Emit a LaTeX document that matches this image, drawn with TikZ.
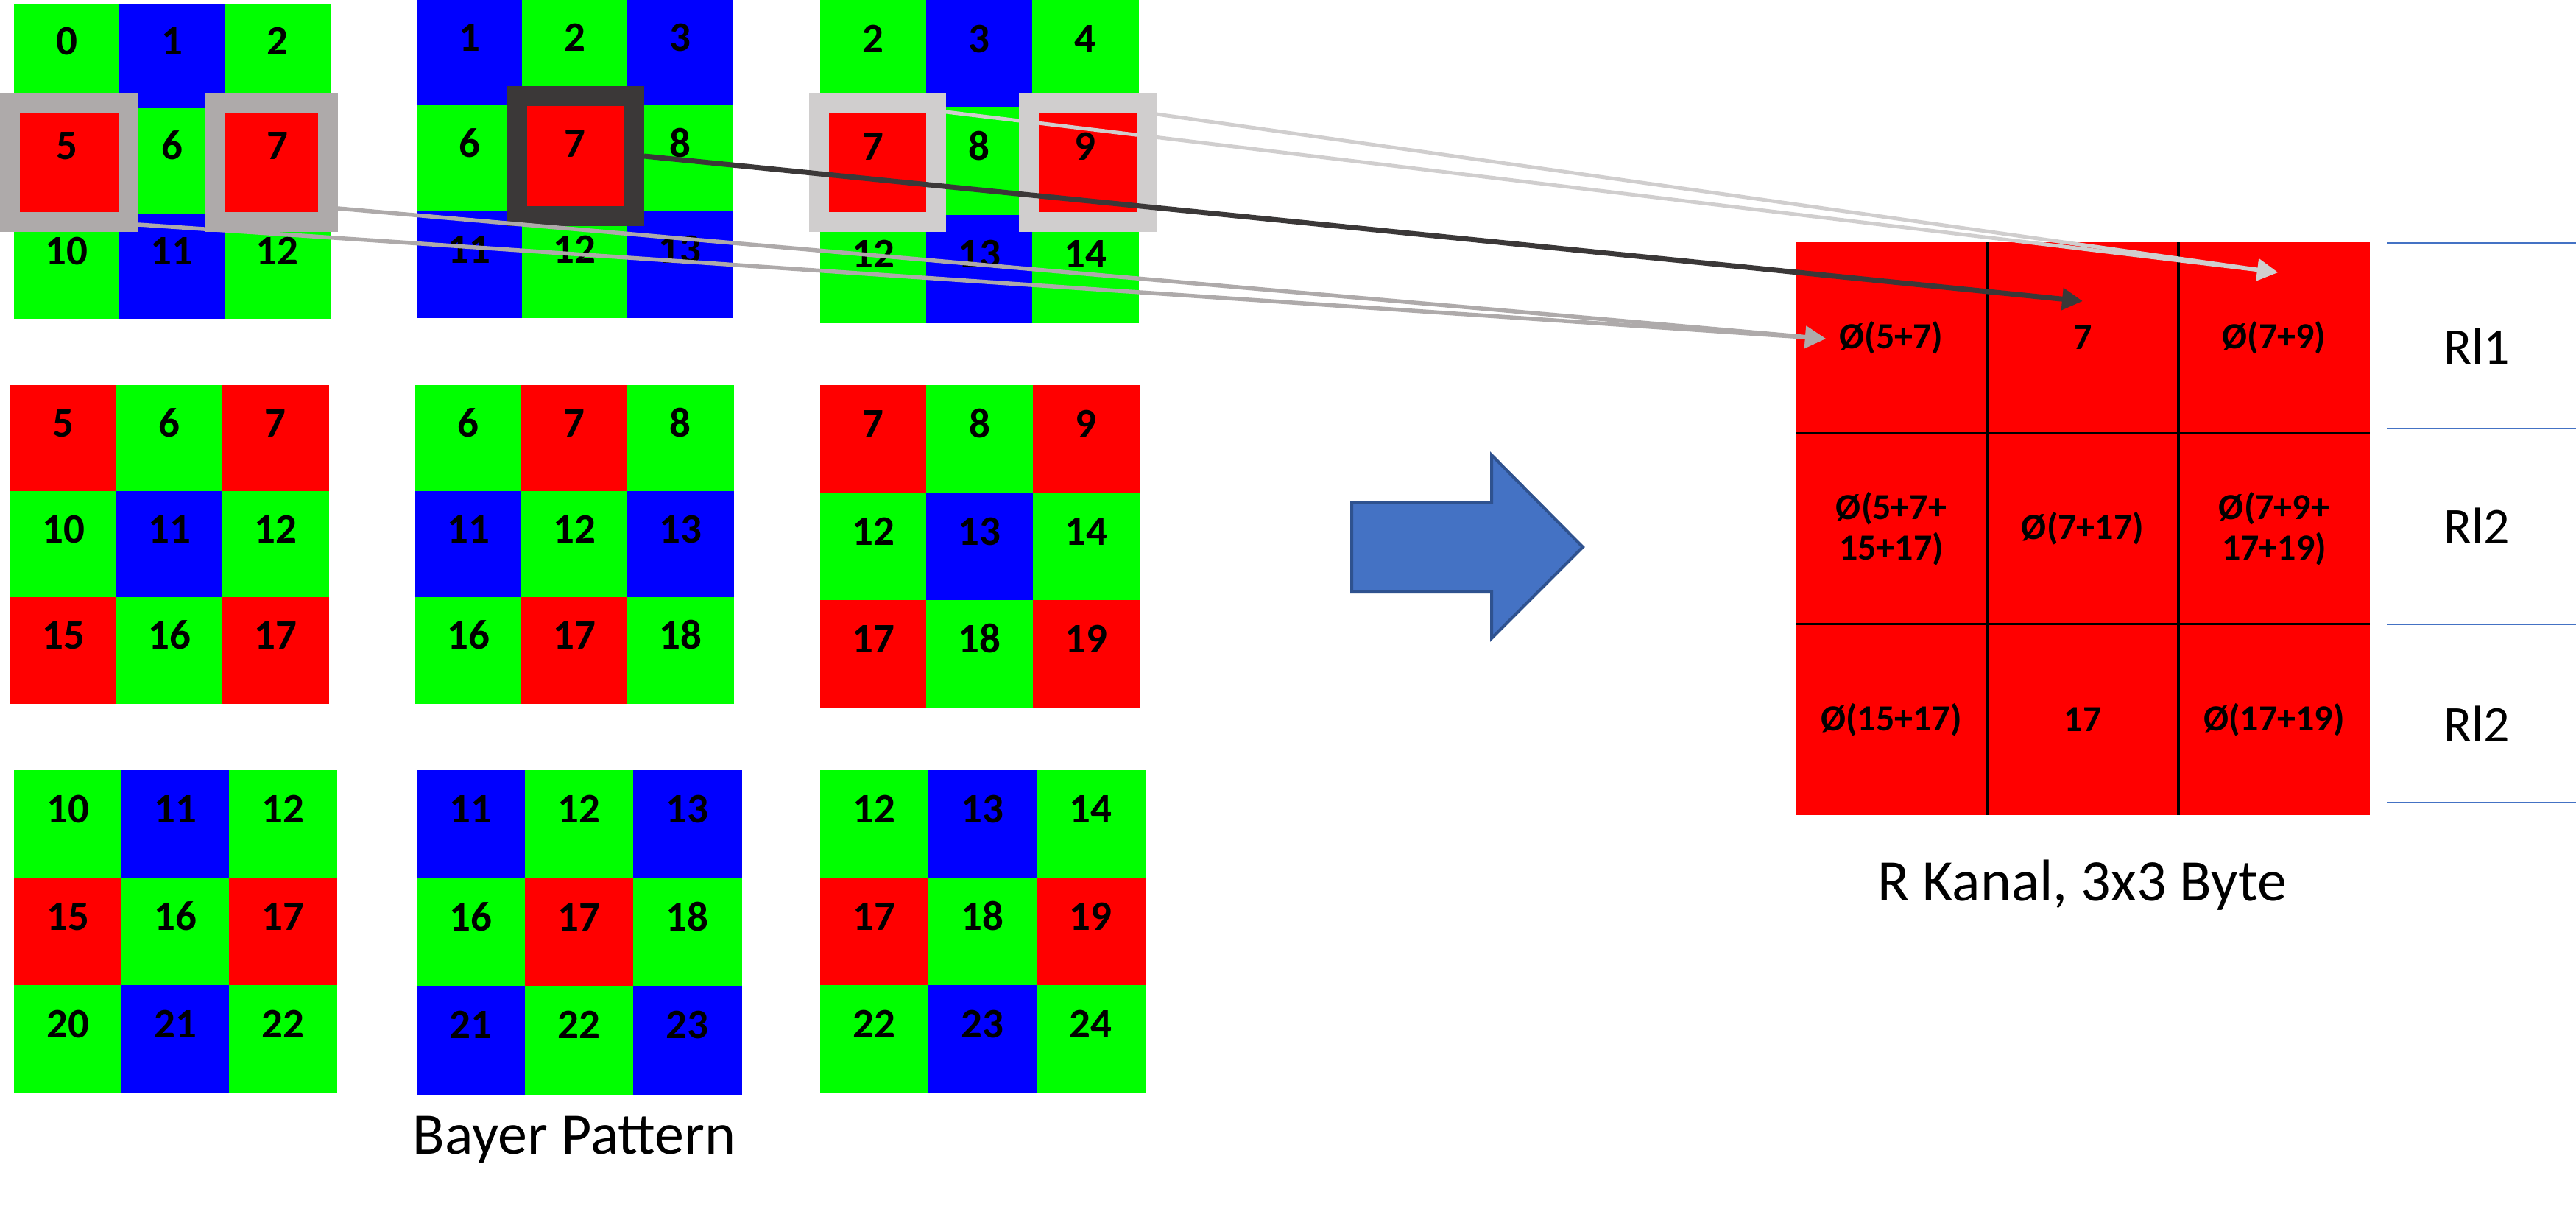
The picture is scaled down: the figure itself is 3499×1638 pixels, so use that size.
\documentclass[tikz,border=0pt]{standalone}
\usepackage{fontspec}
\setmainfont{Carlito}
\usetikzlibrary{arrows.meta}
\definecolor{bgreen}{RGB}{0,255,0}
\definecolor{bblue}{RGB}{0,0,255}
\definecolor{bred}{RGB}{255,0,0}
\definecolor{fgray}{RGB}{174,170,170}
\definecolor{fdark}{RGB}{59,56,56}
\definecolor{flight}{RGB}{208,206,206}
\definecolor{arrblue}{RGB}{68,114,196}
\definecolor{arredge}{RGB}{47,82,143}
\definecolor{sepblue}{RGB}{68,114,196}
\tikzset{
  bcell/.style={inner sep=0pt, outer sep=0pt, font=\fontsize{57}{60}\selectfont\bfseries, text height=0pt, text depth=4pt},
  hiframe/.style={draw=#1, line width=27pt, inner sep=0pt},
  rcell/.style={fill=bred, inner sep=0pt, outer sep=0pt, minimum width=260pt, minimum height=259.3pt, font=\fontsize{50}{55}\selectfont\bfseries, align=center},
  gridline/.style={black, line width=3.5pt},
  link/.style={line width=#1, -{Triangle[length=28pt,width=29pt]}},
  sepline/.style={sepblue, line width=2.5pt},
  lbl/.style={inner sep=0pt, font=\fontsize{70}{80}\selectfont},
  captext/.style={inner sep=0pt, font=\fontsize{80}{90}\selectfont},
}
\newcommand\bayer[6]{%
  \foreach \r in {0,1,2}{\foreach \c in {0,1,2}{%
    \pgfmathtruncatemacro\num{#2+5*\r+\c}%
    \pgfmathtruncatemacro\kk{2*mod(div(\num,5),2)+mod(mod(\num,5),2)}%
    \ifcase\kk \def\col{bgreen}\or\def\col{bblue}\or\def\col{bred}\or\def\col{bgreen}\fi
    \node[bcell, fill=\col, draw=\col, line width=0.6pt, minimum width=#5pt, minimum height=#6pt] (#1\r\c) at ({#3+(\c+0.5)*#5},{#4+(\r+0.5)*#6}) {\num};
  }}}
\begin{document}
\begin{tikzpicture}[x=1pt,y=-1pt]
\useasboundingbox (0,0) rectangle (3499,1638);
\fill[white] (0,0) rectangle (3499,1638);
% Bayer grids
\bayer{ga}{0}{19}{5}{143}{142.5}
\bayer{gb}{1}{566}{-1}{143}{144}
\bayer{gc}{2}{1114}{0}{144}{146}
\bayer{gd}{5}{14}{523}{144}{144}
\bayer{ge}{6}{564}{523}{144}{144}
\bayer{gf}{7}{1114}{523}{144.5}{146}
\bayer{gg}{10}{19}{1046}{146}{146}
\bayer{gh}{11}{566}{1046}{147}{146.7}
\bayer{gi}{12}{1114}{1046}{147}{146}
% highlight frames
\node[hiframe=fgray, minimum width=161pt, minimum height=162pt] (fa5) at (94,220.5) {};
\node[hiframe=fgray, minimum width=153pt, minimum height=162pt] (fa7) at (369,220.5) {};
\node[hiframe=fdark, minimum width=159pt, minimum height=163pt] (fb7) at (782,212) {};
\node[hiframe=flight, minimum width=159pt, minimum height=162pt] (fc7) at (1192,220.5) {};
\node[hiframe=flight, minimum width=160pt, minimum height=162pt] (fc9) at (1477.5,220.5) {};
% R channel grid
\node[rcell] (r00) at ({2439+0.5*260},{329+0.5*259.3}) {Ø(5+7)};
\node[rcell] (r01) at ({2439+1.5*260},{329+0.5*259.3}) {7};
\node[rcell] (r02) at ({2439+2.5*260},{329+0.5*259.3}) {Ø(7+9)};
\node[rcell] (r10) at ({2439+0.5*260},{329+1.5*259.3}) {Ø(5+7+\\15+17)};
\node[rcell] (r11) at ({2439+1.5*260},{329+1.5*259.3}) {Ø(7+17)};
\node[rcell] (r12) at ({2439+2.5*260},{329+1.5*259.3}) {Ø(7+9+\\17+19)};
\node[rcell] (r20) at ({2439+0.5*260},{329+2.5*259.3}) {Ø(15+17)};
\node[rcell] (r21) at ({2439+1.5*260},{329+2.5*259.3}) {17};
\node[rcell] (r22) at ({2439+2.5*260},{329+2.5*259.3}) {Ø(17+19)};
\draw[gridline] (r00.north east) -- (r20.south east);
\draw[gridline] (r01.north east) -- (r21.south east);
\draw[gridline] (r00.south west) -- (r02.south east);
\draw[gridline] (r10.south west) -- (r12.south east);
% arrow targets
\coordinate (t1) at (2480,460);
\coordinate (t2) at (2829,409);
\coordinate (t3) at (3094,370);
% connectors
\draw[link=5.5pt, fgray] ([yshift=-84.5pt]fa5.east) -- (t1);
\draw[link=5.5pt, fgray] ([yshift=-62.5pt]fa7.east) -- (t1);
\draw[link=7pt, fdark] (fb7.east) -- (t2);
\draw[link=5pt, flight] ([yshift=68.5pt]fc7.east) -- (t3);
\draw[link=5pt, flight] ([yshift=65.5pt]fc9.east) -- (t3);
% big blue arrow
\filldraw[fill=arrblue, draw=arredge, line width=4pt, line join=miter]
  (1836,682) -- (2026,682) -- (2026,618) -- (2150,743) -- (2026,867) -- (2026,804) -- (1836,804) -- cycle;
% separator lines
\foreach \yy in {330,582,848,1090} \draw[sepline] (3242,\yy) -- (3499,\yy);
% labels
\node[lbl, anchor=base] (rl1) at (3364,494) {Rl1};
\node[lbl, anchor=base] (rl2) at (3364,738) {Rl2};
\node[lbl, anchor=base] (rl3) at (3364,1007) {Rl2};
\node[captext, anchor=base] (bayercap) at (780,1567) {Bayer Pattern};
\node[captext, anchor=base] (rcap) at (2828,1223) {R Kanal, 3x3 Byte};
\end{tikzpicture}
\end{document}
